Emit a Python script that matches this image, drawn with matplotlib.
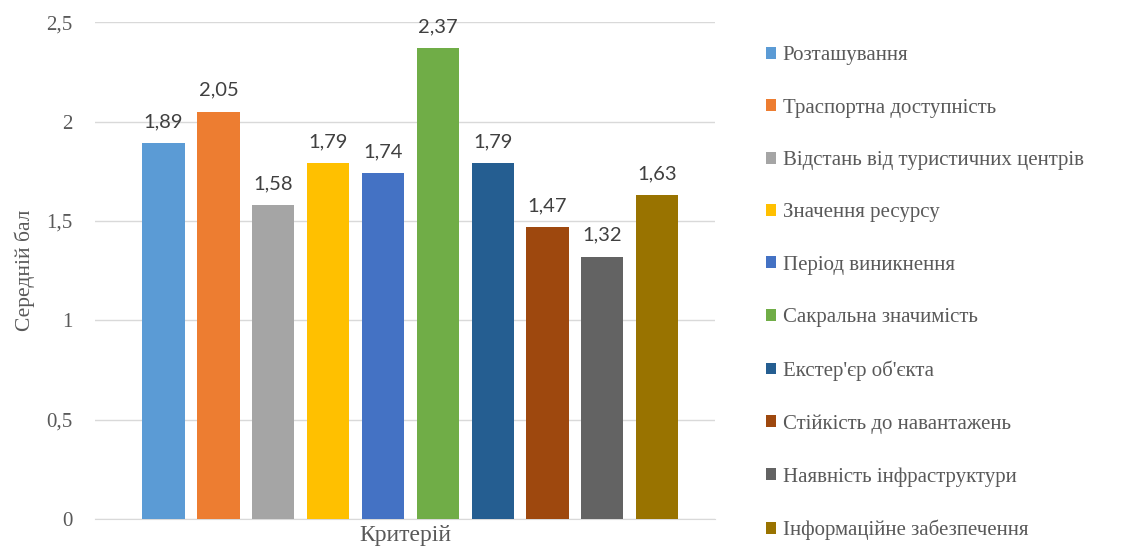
import numpy as np
import matplotlib.pyplot as plt
from matplotlib.patches import Patch

categories = ["Розташування", "Траспортна доступність", "Відстань від туристичних центрів",
              "Значення ресурсу", "Період виникнення", "Сакральна значимість",
              "Екстер'єр об'єкта", "Стійкість до навантажень", "Наявність інфраструктури",
              "Інформаційне забезпечення"]
values = [1.89, 2.05, 1.58, 1.79, 1.74, 2.37, 1.79, 1.47, 1.32, 1.63]
colors = ["#5B9BD5", "#ED7D31", "#A5A5A5", "#FFC000", "#4472C4",
          "#70AD47", "#255E91", "#9E480E", "#636363", "#997300"]
yticks = [0, 0.5, 1, 1.5, 2, 2.5]
ytick_labels = ["0", "0,5", "1", "1,5", "2", "2,5"]

serif = "Liberation Serif"
grey = "#595959"

fig = plt.figure(figsize=(11.31, 5.49), dpi=100)
ax = fig.add_axes([0.084, 0.0546, 0.548, 0.905])

x = np.arange(len(values))
ax.bar(x, values, width=0.77, color=colors, zorder=3)

# value labels above bars, comma as decimal sign
for xi, v in zip(x, values):
    ax.annotate(("%.2f" % v).replace(".", ","), (xi, v), xytext=(0, 11.5),
                textcoords="offset points", ha="center", va="baseline",
                fontsize=14.5, family="Lato", color="#404040")

ax.set_xlim(-1.25, 10.05)
ax.set_ylim(0, 2.5)
ax.set_yticks(yticks)
ax.set_yticklabels(ytick_labels, family=serif, fontsize=15, color=grey)
ax.set_xticks([])
ax.tick_params(axis="y", length=0, pad=16)
ax.grid(axis="y", color="#D9D9D9", lw=1, zorder=0)
for s in ["top", "right", "left"]:
    ax.spines[s].set_visible(False)
ax.spines["bottom"].set_color("#D9D9D9")

ax.set_ylabel("Середній бал", family=serif, fontsize=15.5, color=grey, labelpad=8)
ax.set_xlabel("Критерій", family=serif, fontsize=17, color=grey, labelpad=4)

handles = [Patch(facecolor=c, edgecolor="none") for c in colors]
fig.legend(handles, categories, loc="center left", bbox_to_anchor=(0.668, 0.4655),
           frameon=False, prop={"family": serif, "size": 15}, labelcolor=grey,
           handlelength=0.5, handleheight=0.5, handletextpad=0.3,
           labelspacing=1.60, borderpad=0)

fig.savefig("out.png", dpi=100)
